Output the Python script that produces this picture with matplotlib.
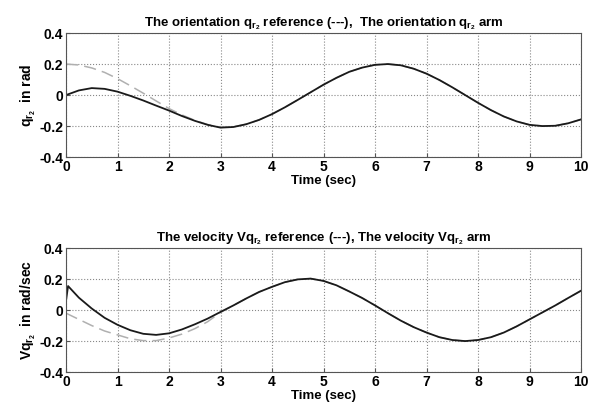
import numpy as np
import matplotlib.pyplot as plt

plt.rcParams['font.family'] = ['Liberation Sans', 'DejaVu Sans']
plt.rcParams['font.weight'] = 'bold'
plt.rcParams['mathtext.fontset'] = 'custom'
plt.rcParams['mathtext.rm'] = 'Liberation Sans:bold'
plt.rcParams['mathtext.it'] = 'Liberation Sans:bold'
plt.rcParams['mathtext.bf'] = 'Liberation Sans:bold'

# time grid (sec)
t = np.arange(0, 10.01, 0.25)

# orientation reference (dashed) and arm (solid), rad
q_ref = [0.200, 0.194, 0.175, 0.146, 0.106, 0.060, 0.012, -0.038, -0.087,
         -0.128, -0.163, -0.190, -0.208, -0.205, -0.188, -0.160, -0.123,
         -0.079, -0.031, 0.018, 0.067, 0.111, 0.150, 0.177, 0.195, 0.200,
         0.192, 0.170, 0.138, 0.097, 0.050, 0.000, -0.050, -0.097, -0.138,
         -0.170, -0.192, -0.200, -0.198, -0.182, -0.157]
q_arm = [0.000, 0.030, 0.045, 0.040, 0.022, -0.005, -0.035, -0.068, -0.100,
         -0.135, -0.166, -0.192, -0.210, -0.206, -0.188, -0.160, -0.123,
         -0.079, -0.031, 0.018, 0.067, 0.111, 0.150, 0.177, 0.195, 0.200,
         0.192, 0.170, 0.138, 0.097, 0.050, 0.000, -0.050, -0.097, -0.138,
         -0.170, -0.192, -0.200, -0.198, -0.182, -0.157]

# velocity reference (dashed) and arm (solid), rad/sec
v_ref = [-0.020, -0.060, -0.100, -0.135, -0.160, -0.185, -0.197, -0.197,
         -0.180, -0.155, -0.120, -0.075, -0.015, 0.030, 0.075, 0.117, 0.150,
         0.180, 0.198, 0.203, 0.188, 0.160, 0.120, 0.078, 0.030, -0.020,
         -0.068, -0.110, -0.145, -0.175, -0.193, -0.200, -0.193, -0.175,
         -0.145, -0.105, -0.060, -0.015, 0.030, 0.078, 0.125]
t_v = np.concatenate([[0.0, 0.04], t[1:]])
v_arm = [0.060, 0.155, 0.080, 0.010, -0.050, -0.095, -0.130, -0.153, -0.160,
         -0.150, -0.125, -0.092, -0.055, -0.012, 0.030, 0.075, 0.117, 0.150,
         0.180, 0.198, 0.203, 0.188, 0.160, 0.120, 0.078, 0.030, -0.020,
         -0.068, -0.110, -0.145, -0.175, -0.193, -0.200, -0.193, -0.175,
         -0.145, -0.105, -0.060, -0.015, 0.030, 0.078, 0.125]

fig = plt.figure(figsize=(5.92, 4.08), dpi=100)
ax1 = fig.add_axes([0.1115, 0.615, 0.870, 0.304])
ax2 = fig.add_axes([0.1115, 0.088, 0.870, 0.304])

panels = [
    (ax1, t, q_ref, t, q_arm,
     r'The orientation $q_{r_2}$ reference (---),  The orientation $q_{r_2}$ arm',
     r'$q_{r_2}$  in rad'),
    (ax2, t, v_ref, t_v, v_arm,
     r'The velocity V$q_{r_2}$ reference (---), The velocity V$q_{r_2}$ arm',
     r'V$q_{r_2}$  in rad/sec'),
]

for ax, tr, yr, ta, ya, title, ylab in panels:
    ax.plot(tr, yr, color='#b0b0b0', linestyle=(0, (8, 4)), linewidth=1.1)
    ax.plot(ta, ya, color='#1a1a1a', linewidth=1.3)
    ax.set_xlim(0, 10)
    ax.set_ylim(-0.4, 0.4)
    ax.set_xticks(range(11))
    ax.set_yticks([-0.4, -0.2, 0, 0.2, 0.4])
    ax.set_yticklabels(['-0.4', '-0.2', '0', '0.2', '0.4'])
    ax.tick_params(direction='in', labelsize=10, length=3, color='#555555',
                   pad=2)
    ax.grid(True, linestyle=':', color='#888888', linewidth=0.8)
    for s in ax.spines.values():
        s.set_color('#555555')
    ax.set_title(title, fontsize=9.5, fontweight='bold', pad=5)
    ax.set_xlabel('Time (sec)', fontsize=9.5, fontweight='bold', labelpad=1)
    ax.set_ylabel(ylab, fontsize=10, fontweight='bold', labelpad=1)

plt.savefig('out.png', dpi=100)
